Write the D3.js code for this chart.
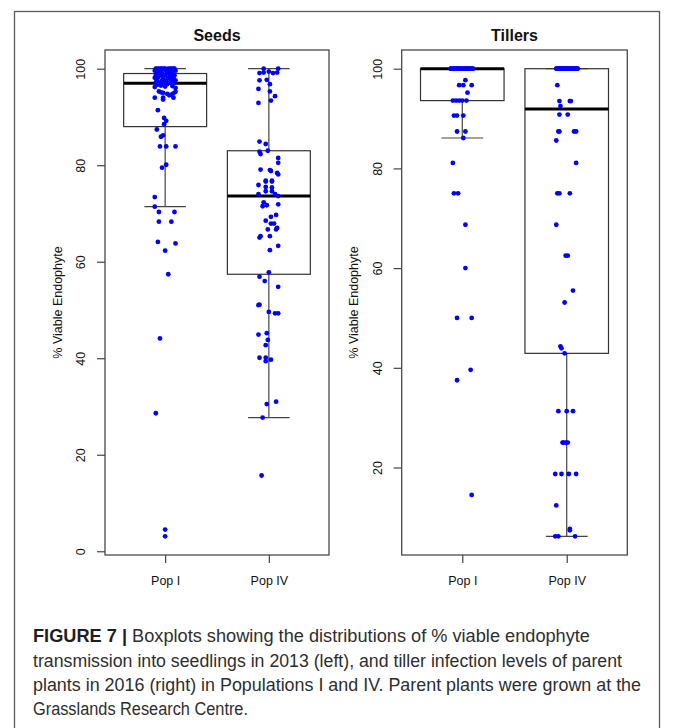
<!DOCTYPE html>
<html><head><meta charset="utf-8">
<script src="https://cdnjs.cloudflare.com/ajax/libs/d3/7.8.5/d3.min.js"></script>
<style>body{margin:0;background:#fff} svg{display:block}</style>
</head><body>
<svg id="c" width="673" height="728"></svg>
<script>
// ---------------- DATA ----------------
const categories = ["Pop I", "Pop IV"];
const panelTitles = ["Seeds", "Tillers"];
const yAxisTitle = "% Viable Endophyte";
const seedTicks = [0, 20, 40, 60, 80, 100];
const tillerTicks = [20, 40, 60, 80, 100];

// box statistics: [lower whisker, Q1, median, Q3, upper whisker]
const seedStatsPopI  = [71.4, 88.0, 97.0, 99.0, 100];
const seedStatsPopIV = [27.7, 57.4, 73.6, 83.0, 100];
const tillerStatsPopI  = [86.1, 93.6, 100, 100, 100];
const tillerStatsPopIV = [6.2, 42.9, 91.9, 100, 100];

// individual observations (% viable endophyte) and their horizontal jitter (category units)
const seedValuesPopI = [100,100,100,100,100,100,100,100,100,100,100,100,
 99.6,99.6,99.6,99.6,99.6, 99.1,99.1,99.1,99.1,99.1,99.1, 98.6,98.6,98.6,98.6,98.6,
 98.1,98.1,98.1,98.1,98.1,98.1, 97.6,97.6,97.6,97.6,97.6, 97.1,97.1,97.1,97.1,97.1,
 96.7,96.5,96.3,96.8,96.4,96.2,96.0, 95.3,95.1,95.0,94.8,94.5,94.6,94.9,95.2,
 94.0,94.0,93.6,94.0, 91.4,89.8,89.2,88.5,87.4,86.2,85.9,
 83.9,83.9,83.9,80.1,79.5,73.4,71.4,70.3,70.3,
 68.3,68.3,64.1,63.8,62.3,57.4,44.1,28.6,4.5,3.1];
const seedJitterPopI = [-0.09,-0.06,-0.03,0,0.03,0.06,0.09,-0.08,-0.01,0.05,0.08,-0.04,
 -0.10,-0.05,0.01,0.06,0.10, -0.08,-0.03,0.02,0.07,-0.06,0.04, -0.09,-0.04,0,0.05,0.09,
 -0.07,-0.02,0.03,0.08,-0.10,0.06, -0.08,-0.03,0.01,0.06,0.10, -0.09,-0.05,0,0.04,0.08,
 -0.07,-0.04,0,0.02,0.07,-0.10,0.10, -0.06,-0.04,-0.02,0.02,0.04,0.06,0.08,0.10,
 -0.10,-0.02,-0.02,0.08, -0.07,-0.01,0.01,-0.01,-0.08,-0.02,-0.04,
 -0.05,0.01,0.10,0.01,-0.03,-0.10,-0.10,-0.06,0.09,
 -0.06,0.06,-0.07,0.10,0,0.03,-0.05,-0.09,0,0];

const seedValuesPopIV = [100,100,99.1,99.2,99.4,99.1,99.2,97.6,97.7,96.8,95.8,95.3,94.3,93.4,92.9,
 84.9,84.4,83.0,82.8,82.3,81.5,80.5,79.1,79.0,78.8,78.4,78.1,76.8,76.8,
 75.9,76.6,76.6,75.5,75.4,74.0,74.6,74.6,74.0,73.6,
 72.3,71.5,71.7,71.9,69.3,69.7,68.5,67.9,67.9,66.7,66.7,67.0,65.3,65.0,65.3,63.3,62.4,
 57.8,56.9,56.0,54.8,51.0,51.1,49.6,49.3,49.3,45.2,44.9,43.8,42.7,40.1,40.1,39.7,39.4,31.0,30.5,27.7,15.7];
const seedJitterPopIV = [-0.05,0.09,-0.09,-0.05,0,0.04,0.08,-0.09,-0.02,0.01,-0.10,0.01,0.06,0.02,-0.10,
 -0.09,-0.03,-0.01,-0.09,-0.08,0.09,0.09,-0.08,0.01,0.02,0.08,0.09,-0.03,0.03,
 -0.10,-0.03,0.03,-0.03,0.03,-0.10,-0.03,0.03,0.06,0.09,
 -0.05,-0.06,-0.02,0.09,0.02,0.07,-0.03,0.02,0.05,-0.01,0.07,0.08,-0.08,-0.09,0.01,0.09,0.01,
 0,-0.09,-0.04,0.09,-0.10,-0.09,0,0.06,0.09,-0.02,-0.10,-0.01,-0.03,-0.09,-0.03,0.02,-0.03,0.07,-0.02,-0.06,-0.07];

const tillerValuesPopI = [100,100,100,100,100,100,100,100,100,100,100,100,100,
 100,100,100,100,100,100,100,100,100,100,100,100,100,
 97.7,96.7,96.7,96.7,95.2, 93.6,93.6,93.6,93.6,93.6, 90.6,90.6,90.6, 87.4,87.4,86.1,
 81.1,75,75,68.7,60,50,50,39.6,37.5,14.5];
const tillerJitterPopI = [-0.11,-0.09,-0.07,-0.05,-0.03,-0.01,0.01,0.03,0.05,0.07,0.09,0.10,-0.10,
 -0.08,-0.06,-0.04,-0.02,0,0.02,0.04,0.06,0.08,-0.11,0.10,-0.05,0.05,
 0.03,-0.03,0.01,0.09,0.05, -0.09,-0.06,-0.03,0,0.04, -0.08,-0.05,0.01, -0.05,0.03,0.01,
 -0.09,-0.08,-0.04,0.03,0.03,-0.05,0.09,0.08,-0.05,0.09];

const tillerValuesPopIV = [100,100,100,100,100,100,100,100,100,100,100,100,100,100,100,
 100,100,100,100,100,100,100,100,100,100,100,100,100,100,100,
 96.7,93.5,92.5,93.5,93.5,90.8,90.8,87.4,87.4,87.4,87.4,85.6,81.1,75,75,75,68.7,
 62.5,62.5,55.5,53.1,44.3,43.9,42.9,31.3,31.3,31.3,25,25,25,25,18.7,18.7,18.7,18.7,
 12.4,7.7,7.4,6.2,6.2,6.2];
const tillerJitterPopIV = [-0.10,-0.09,-0.07,-0.06,-0.04,-0.03,-0.01,0,0.01,0.03,0.04,0.06,0.07,0.09,0.10,
 -0.095,-0.08,-0.065,-0.05,-0.035,-0.02,-0.005,0.005,0.02,0.035,0.05,0.065,0.08,0.095,0.105,
 -0.09,-0.07,-0.06,0.03,0.04,-0.07,0.01,-0.08,-0.07,0.07,0.09,-0.10,0.09,-0.09,-0.07,0.03,-0.10,
 -0.01,0.01,0.06,-0.02,-0.06,-0.05,-0.02,-0.08,0,0.06,-0.04,-0.03,-0.01,0.01,-0.11,-0.05,0.02,0.09,
 -0.10,0.03,0.03,-0.11,-0.08,0.08];

const captionBold = "FIGURE 7 | ";
const captionLines = [
  "Boxplots showing the distributions of % viable endophyte",
  "transmission into seedlings in 2013 (left), and tiller infection levels of parent",
  "plants in 2016 (right) in Populations I and IV. Parent plants were grown at the",
  "Grasslands Research Centre."
];

// ---------------- DRAW ----------------
const svg = d3.select("#c");
const FONT = "'Liberation Sans', Arial, Helvetica, sans-serif";

svg.append("rect").attr("x", 14.5).attr("y", 11.5).attr("width", 645).attr("height", 760)
  .attr("fill", "none").attr("stroke", "#5a5a5a").attr("stroke-width", 1.3);

const panels = [
  { title: panelTitles[0], x0: 105, x1: 329, ticks: seedTicks,
    stats: [seedStatsPopI, seedStatsPopIV],
    values: [seedValuesPopI, seedValuesPopIV], jitter: [seedJitterPopI, seedJitterPopIV] },
  { title: panelTitles[1], x0: 401.7, x1: 627.3, ticks: tillerTicks,
    stats: [tillerStatsPopI, tillerStatsPopIV],
    values: [tillerValuesPopI, tillerValuesPopIV], jitter: [tillerJitterPopI, tillerJitterPopIV] }
];
const Y0 = 50, Y1 = 555;

panels.forEach(p => {
  const g = svg.append("g");
  const all = p.values[0].concat(p.values[1]);
  const [mn, mx] = d3.extent(all);
  const pad = (mx - mn) * 0.04;
  const y = d3.scaleLinear().domain([mn - pad, mx + pad]).range([Y1, Y0]);
  const x = d3.scaleLinear().domain([0.42, 2.58]).range([p.x0, p.x1]);
  const pos = i => i + 1;

  // boxes
  p.stats.forEach((s, i) => {
    const cx = x(pos(i));
    const hw = x(pos(i) + 0.4) - cx;
    const sw = x(pos(i) + 0.2) - cx;
    const [lo, q1, md, q3, hi] = s;
    g.append("line").attr("x1", cx).attr("x2", cx).attr("y1", y(q1)).attr("y2", y(lo))
      .attr("stroke", "#444").attr("stroke-width", 1.2);
    g.append("line").attr("x1", cx).attr("x2", cx).attr("y1", y(q3)).attr("y2", y(hi))
      .attr("stroke", "#444").attr("stroke-width", 1.2);
    [lo, hi].forEach(v => g.append("line").attr("x1", cx - sw).attr("x2", cx + sw)
      .attr("y1", y(v)).attr("y2", y(v)).attr("stroke", "#444").attr("stroke-width", 1.2));
    g.append("rect").attr("x", cx - hw).attr("width", 2 * hw).attr("y", y(q3)).attr("height", y(q1) - y(q3))
      .attr("fill", "none").attr("stroke", "#333").attr("stroke-width", 1.2);
    g.append("line").attr("x1", cx - hw).attr("x2", cx + hw).attr("y1", y(md)).attr("y2", y(md))
      .attr("stroke", "#000").attr("stroke-width", 3);
  });

  // points
  p.values.forEach((vals, i) => {
    g.selectAll(null).data(vals.map((v, k) => ({ v, j: p.jitter[i][k] }))).enter()
      .append("circle").attr("cx", d => x(pos(i) + d.j)).attr("cy", d => y(d.v))
      .attr("r", 2.4).attr("fill", "#0000ff");
  });

  // frame
  g.append("rect").attr("x", p.x0).attr("y", Y0).attr("width", p.x1 - p.x0).attr("height", Y1 - Y0)
    .attr("fill", "none").attr("stroke", "#4a4a4a").attr("stroke-width", 1.3);

  // y axis
  const ya = g.append("g").attr("transform", `translate(${p.x0},0)`)
    .call(d3.axisLeft(y).tickValues(p.ticks).tickSize(8).tickSizeOuter(0).tickFormat(d3.format("d")));
  ya.select(".domain").remove();
  ya.selectAll(".tick line").attr("stroke", "#444").attr("stroke-width", 1.2);
  ya.selectAll(".tick text").attr("x", 0).attr("dy", null)
    .attr("transform", "translate(-23.4,0) rotate(-90)")
    .attr("text-anchor", "middle").attr("dominant-baseline", "middle")
    .style("font-family", FONT).style("font-size", "12.5px").attr("fill", "#111");

  // x axis
  const xa = g.append("g").attr("transform", `translate(0,${Y1})`)
    .call(d3.axisBottom(x).tickValues([1, 2]).tickSize(8).tickSizeOuter(0).tickFormat((d, i) => categories[i]));
  xa.select(".domain").remove();
  xa.selectAll(".tick line").attr("stroke", "#444").attr("stroke-width", 1.2);
  xa.selectAll(".tick text").attr("y", 30).attr("dy", null)
    .style("font-family", FONT).style("font-size", "12.5px").attr("fill", "#111");

  // titles
  g.append("text").attr("x", (p.x0 + p.x1) / 2).attr("y", 41).attr("text-anchor", "middle")
    .style("font-family", FONT).style("font-size", "16px").style("font-weight", "bold").attr("fill", "#111")
    .text(p.title);
  g.append("text").attr("transform", `translate(${p.x0 - 46.7},${(Y0 + Y1) / 2}) rotate(-90)`)
    .attr("text-anchor", "middle").attr("dominant-baseline", "middle")
    .style("font-family", FONT).style("font-size", "12.5px").attr("fill", "#111").text(yAxisTitle);
});

// caption
const capFont = "'Liberation Sans Narrow', 'Arial Narrow', 'Liberation Sans', sans-serif";
const capBase = [642, 667, 691, 715];
const capRight = [590, 622, 641, 248];
captionLines.forEach((line, i) => {
  const t = svg.append("text").attr("x", 33).attr("y", capBase[i])
    .style("font-family", capFont).style("font-size", "17.5px").attr("fill", "#2e2e2e")
    .attr("textLength", capRight[i] - 33).attr("lengthAdjust", "spacingAndGlyphs");
  if (i === 0) t.append("tspan").style("font-weight", "bold").attr("fill", "#1e1e1e").text(captionBold);
  t.append("tspan").text(line);
});
</script>
</body></html>
